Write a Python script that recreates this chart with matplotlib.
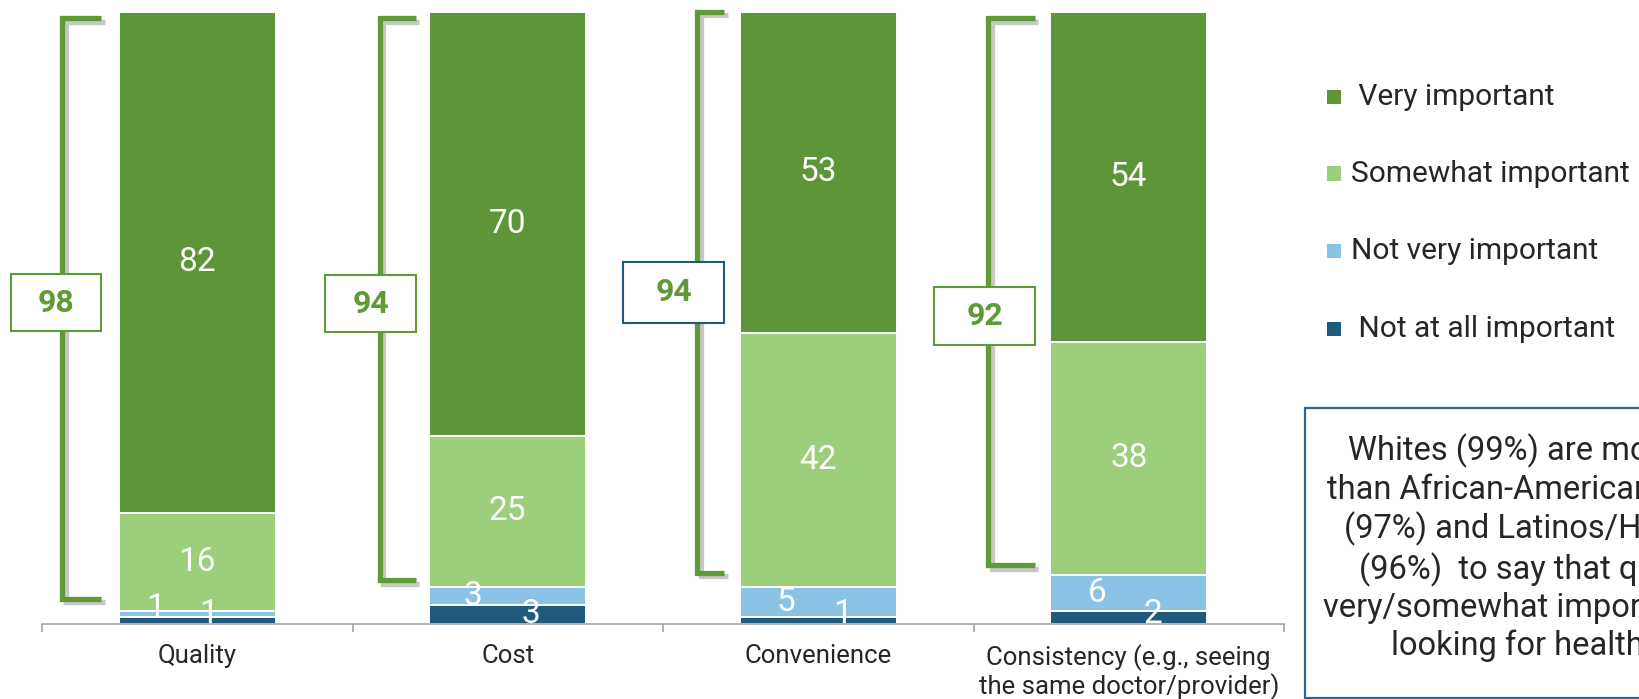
import matplotlib
matplotlib.use("Agg")
import matplotlib.pyplot as plt
import numpy as np
from matplotlib.patches import Rectangle
from matplotlib import patheffects as pe

plt.rcParams['font.family'] = ['Roboto', 'DejaVu Sans']

# ---- data -------------------------------------------------------------
categories = ['Quality', 'Cost', 'Convenience',
              'Consistency (e.g., seeing\nthe same doctor/provider)']
very_important = [82, 70, 53, 54]
somewhat_important = [16, 25, 42, 38]
not_very_important = [1, 3, 5, 6]
not_at_all_important = [1, 3, 1, 2]
net_important = [98, 94, 94, 92]

series_names = [' Very important', 'Somewhat important',
                'Not very important', ' Not at all important']

# ---- style ------------------------------------------------------------
C_VERY = '#5c9638'
C_SOME = '#9bcf7b'
C_NOTVERY = '#8bc3e6'
C_NOTATALL = '#1f5a7d'
C_BRACKET = '#5e9a36'
C_BLUEBOX = '#1f5a7d'
C_TEXT = '#262626'

W, H = 1639, 699
fig = plt.figure(figsize=(W / 100, H / 100), dpi=100)
ax = fig.add_axes([42 / W, 75.5 / H, 1242 / W, 612 / H])

x = np.arange(len(categories))
stack = np.array([not_at_all_important, not_very_important,
                  somewhat_important, very_important], dtype=float)
totals = stack.sum(axis=0)
shares = stack / totals * 100.0          # 100% stacked
bottoms = np.vstack([np.zeros(len(x)), np.cumsum(shares, axis=0)[:-1]])
colors = [C_NOTATALL, C_NOTVERY, C_SOME, C_VERY]
bar_w = 0.505

for i in range(4):
    ax.bar(x, shares[i], bottom=bottoms[i], width=bar_w, color=colors[i],
           edgecolor='white', linewidth=1.4, zorder=2)

# segment value labels (thin segments get their labels nudged sideways)
x_nudge = [[0.035, 0.074, 0.077, 0.077],
           [-0.135, -0.113, -0.103, -0.10],
           [0, 0, 0, 0],
           [0, 0, 0, 0]]
y_floor = [1.6, 2.5, 0, 0]
for i in range(4):
    for j in range(len(x)):
        yc = max(bottoms[i][j] + shares[i][j] / 2, y_floor[i])
        ax.text(x[j] + x_nudge[i][j], yc, f'{int(stack[i][j])}',
                color='white', fontsize=24, ha='center', va='center',
                zorder=4)

# brackets spanning the "important" share, with the net value in a box
bracket_top = [98.9, 98.9, 100.0, 98.9]
bracket_bot = [4.0, 7.1, 8.3, 9.5]
bracket_x = [-0.434, -0.412, -0.389, -0.453]
arm_x = [-0.309, -0.296, -0.302, -0.302]
box_left = [-0.600, -0.588, -0.630, -0.627]
box_y = [(47.8, 57.1), (47.6, 56.9), (49.1, 59.1), (45.5, 55.0)]
box_edge = [C_BRACKET, C_BRACKET, C_BLUEBOX, C_BRACKET]

shadow = [pe.SimpleLineShadow(offset=(2.5, -2.5), shadow_color='#000000',
                              alpha=0.22), pe.Normal()]
for j in range(len(x)):
    xv = x[j] + bracket_x[j]
    xa = x[j] + arm_x[j]
    ax.plot([xa, xv, xv, xa], [bracket_top[j], bracket_top[j],
                               bracket_bot[j], bracket_bot[j]],
            color=C_BRACKET, lw=3.8, solid_joinstyle='miter',
            solid_capstyle='butt', clip_on=False, zorder=3,
            path_effects=shadow)
    bl = x[j] + box_left[j]
    y0, y1 = box_y[j]
    ax.add_patch(Rectangle((bl, y0), xa - bl, y1 - y0, facecolor='white',
                           edgecolor=box_edge[j], lw=1.5, clip_on=False,
                           zorder=5))
    ax.text((bl + xa) / 2, (y0 + y1) / 2, f'{net_important[j]}',
            color=C_BRACKET, fontsize=23, fontweight='bold',
            ha='center', va='center', zorder=6)

# axes
ax.set_xlim(-0.5, len(x) - 0.5)
ax.set_ylim(0, 100)
for s in ['top', 'right', 'left']:
    ax.spines[s].set_visible(False)
ax.spines['bottom'].set_color('#a6a6a6')
ax.spines['bottom'].set_linewidth(1.2)
ax.set_yticks([])
ax.set_xticks(np.arange(-0.5, len(x), 1.0))
ax.set_xticklabels([])
ax.tick_params(axis='x', which='major', length=6, width=1.2, color='#a6a6a6')
ax.set_xticks(x, minor=True)
ax.set_xticklabels(categories, minor=True, fontsize=18.5, color=C_TEXT,
                   linespacing=1.1)
ax.tick_params(axis='x', which='minor', length=0, pad=15)

# legend
leg_rows = [97, 173.5, 251, 329]
for k, (name, col) in enumerate(zip(series_names, [C_VERY, C_SOME,
                                                    C_NOTVERY, C_NOTATALL])):
    yc = H - leg_rows[k]
    fig.add_artist(Rectangle((1327 / W, (yc - 7) / H), 14 / W, 14 / H,
                             facecolor=col, edgecolor='none',
                             transform=fig.transFigure))
    fig.text(1351 / W, yc / H, name, fontsize=21.5, color=C_TEXT,
             ha='left', va='center')

# call-out box
fig.add_artist(Rectangle((1305 / W, 1 / H), 600 / W, 290 / H,
                         facecolor='white', edgecolor='#2c6790', lw=1.6,
                         transform=fig.transFigure, clip_on=False))
fig.text(1553 / W, (H - 548) / H,
         'Whites (99%) are more likely\n'
         'than African-Americans/Blacks\n'
         '(97%) and Latinos/Hispanics\n'
         '(96%)  to say that quality is\n'
         'very/somewhat important when\n'
         'looking for health care',
         fontsize=23.5, color=C_TEXT, ha='center', va='center',
         multialignment='center', linespacing=1.22)

fig.savefig('out.png', dpi=100)
